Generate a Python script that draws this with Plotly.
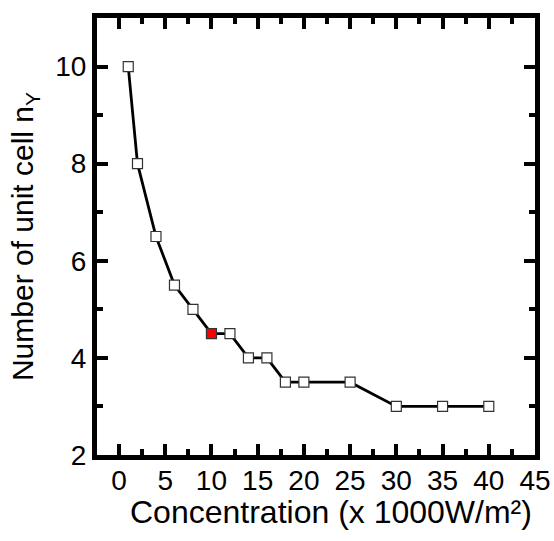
import plotly.graph_objects as go

concentration = [1, 2, 4, 6, 8, 10, 12, 14, 16, 18, 20, 25, 30, 35, 40]
n_cells = [10, 8, 6.5, 5.5, 5, 4.5, 4.5, 4, 4, 3.5, 3.5, 3.5, 3, 3, 3]
highlight_x = 10
marker_colors = ["red" if c == highlight_x else "white" for c in concentration]
x_title = "Concentration (x 1000W/m²)"
y_title = "Number of unit cell n<sub>Y</sub>"

fig = go.Figure()
fig.add_trace(go.Scatter(
    x=concentration, y=n_cells, mode="lines+markers",
    line=dict(color="black", width=2.8),
    marker=dict(symbol="square", size=10, color=marker_colors,
                line=dict(color="#333333", width=1.2)),
    showlegend=False, cliponaxis=False,
))

tick_font = dict(family="Liberation Sans, Arial, sans-serif", size=28, color="black")
xtitle_font = dict(family="Liberation Sans, Arial, sans-serif", size=32, color="black")
ytitle_font = dict(family="Liberation Sans, Arial, sans-serif", size=30, color="black")
axis_common = dict(
    showline=True, linewidth=5, linecolor="black", mirror="allticks",
    ticks="inside", ticklen=11, tickwidth=3.5, tickcolor="black",
    showgrid=False, zeroline=False, tickfont=tick_font, automargin=False,
)
fig.update_xaxes(range=[-2.38, 45.0], tickmode="array",
                 tickvals=list(range(0, 50, 5)), ticklabelstandoff=-4,
                 minor=dict(ticks="inside", ticklen=6, tickwidth=3.5, tickcolor="black",
                            tickvals=[2.5 + 5 * i for i in range(9)], showgrid=False),
                 **axis_common)
fig.update_yaxes(range=[2, 11], tickmode="array", tickvals=[2, 4, 6, 8, 10],
                 minor=dict(ticks="inside", ticklen=6, tickwidth=3.5, tickcolor="black",
                            tickvals=[3, 5, 7, 9], showgrid=False),
                 title=dict(text=y_title, font=ytitle_font, standoff=14),
                 **axis_common)
fig.add_annotation(text=x_title, xref="paper", yref="paper", x=0.534, y=0,
                   xanchor="center", yanchor="middle", yshift=-57,
                   showarrow=False, font=xtitle_font)
fig.update_layout(
    width=554, height=541, margin=dict(l=97, r=19, t=18, b=86, autoexpand=False),
    plot_bgcolor="white", paper_bgcolor="white", font=tick_font,
)
fig.write_html(
    "out.html",
    config={"displayModeBar": False},
    post_script="document.body.style.margin='0';document.body.style.padding='0';"
                "document.body.style.overflow='hidden';",
)
